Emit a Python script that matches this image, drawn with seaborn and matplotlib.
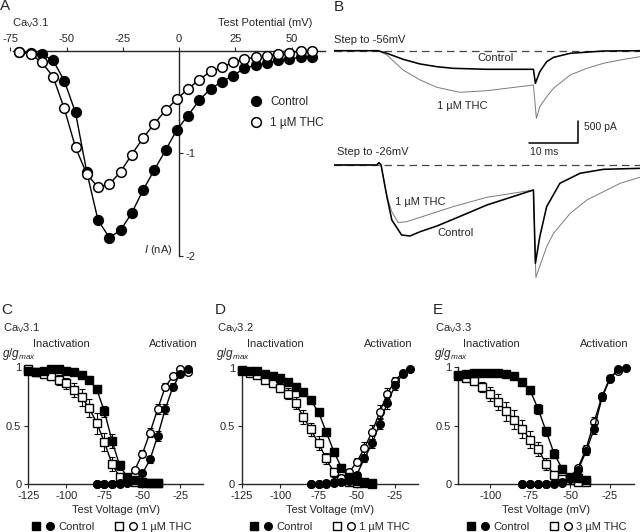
import matplotlib
matplotlib.use("Agg")
import matplotlib.pyplot as plt
import seaborn as sns
from matplotlib.lines import Line2D
from matplotlib.legend_handler import HandlerTuple

# ===============================
# Data
# ===============================
# Panel A: I-V of CaV3.1 (nA)
iv_voltage = [-71, -66, -61, -56, -51, -46, -41, -36, -31, -26, -21, -16, -11, -6,
              -1, 4, 9, 14, 19, 24, 29, 34, 39, 44, 49, 54, 59]
iv_control = [-0.01, -0.02, -0.03, -0.09, -0.29, -0.60, -1.18, -1.65, -1.82, -1.75,
              -1.58, -1.36, -1.16, -0.97, -0.77, -0.63, -0.48, -0.37, -0.30, -0.24,
              -0.17, -0.14, -0.12, -0.09, -0.08, -0.06, -0.06]
iv_thc = [-0.01, -0.03, -0.11, -0.25, -0.56, -0.94, -1.20, -1.33, -1.30, -1.18, -1.01,
          -0.85, -0.71, -0.58, -0.47, -0.37, -0.28, -0.20, -0.16, -0.11, -0.08, -0.06,
          -0.05, -0.03, -0.02, 0.0, 0.0]

# Panel B: current traces (ms, pA)
top_ctrl_t = [0, 9.0, 10.8, 14.1, 17.6, 21.0, 24.3, 31.2, 40.7, 41.1, 42.0, 43.4, 44.8, 48.2, 55.0, 62.4]
top_ctrl_i = [0, 0, -60, -198, -306, -368, -405, -428, -428, -750, -483, -253, -153, -60, -7, 0]
top_thc_t = [0, 9.0, 10.8, 14.1, 17.6, 21.0, 25.7, 31.2, 40.7, 41.3, 42.0, 43.4, 44.8, 48.2, 51.6, 55.0, 58.4, 62.4]
top_thc_i = [0, 0, -99, -444, -674, -842, -957, -920, -789, -1555, -1288, -1058, -865, -559, -405, -290, -214, -138]
bot_ctrl_t = [0, 8.7, 9.2, 9.6, 10.8, 11.8, 13.8, 15.5, 17.6, 21.0, 24.3, 31.2, 40.7, 41.1, 42.0, 43.4, 46.1, 50.2, 55.0, 62.4]
bot_ctrl_i = [0, 0, 53, 0, -729, -1265, -1610, -1633, -1533, -1403, -1249, -920, -575, -2261, -1648, -958, -421, -191, -99, -77]
bot_thc_t = [0, 8.7, 9.2, 9.6, 10.8, 11.8, 13.1, 14.8, 17.6, 24.3, 31.2, 40.7, 41.2, 43.4, 44.8, 48.2, 51.6, 58.4, 62.4]
bot_thc_i = [0, 0, 53, 0, -729, -1073, -1326, -1303, -1203, -958, -743, -575, -2584, -1879, -1572, -1112, -805, -421, -284]

# Panels C-E: normalised conductance
inact_v = [-125, -120, -115, -110, -105, -100, -95, -90, -85, -80, -75, -70, -65, -60, -55, -50, -45, -40]
act_v = [-80, -75, -70, -65, -60, -55, -50, -45, -40, -35, -30, -25, -20, -15]

c_inact_ctrl = [0.97, 0.96, 0.97, 0.98, 0.98, 0.97, 0.96, 0.93, 0.89, 0.81, 0.62, 0.37, 0.16, 0.06, 0.03, 0.02, 0.01, 0.01]
c_inact_ctrl_err = [0.02, 0.01, 0.01, 0.01, 0.01, 0.01, 0.01, 0.02, 0.03, 0.03, 0.05, 0.06, 0.04, 0.02, 0.01, 0.01, 0.0, 0.0]
c_inact_thc = [0.98, 0.96, 0.94, 0.92, 0.89, 0.86, 0.80, 0.74, 0.65, 0.52, 0.36, 0.17, 0.06, 0.03, 0.02, 0.01, 0.01, 0.01]
c_inact_thc_err = [0.01, 0.02, 0.02, 0.03, 0.04, 0.05, 0.06, 0.07, 0.08, 0.09, 0.08, 0.06, 0.03, 0.02, 0.01, 0.0, 0.0, 0.0]
c_act_ctrl = [0.0, 0.0, 0.0, 0.0, 0.01, 0.03, 0.09, 0.21, 0.41, 0.64, 0.83, 0.94, 0.98]
c_act_ctrl_err = [0.0, 0.0, 0.0, 0.0, 0.0, 0.01, 0.02, 0.03, 0.04, 0.04, 0.03, 0.02, 0.01]
c_act_thc = [0.0, 0.0, 0.0, 0.01, 0.04, 0.12, 0.26, 0.44, 0.64, 0.83, 0.92, 0.98, 0.96]
c_act_thc_err = [0.0, 0.0, 0.0, 0.0, 0.01, 0.02, 0.03, 0.04, 0.04, 0.03, 0.02, 0.01, 0.01]

d_inact_ctrl = [0.98, 0.97, 0.97, 0.95, 0.93, 0.91, 0.88, 0.84, 0.79, 0.72, 0.62, 0.45, 0.28, 0.14, 0.06, 0.03, 0.02, 0.01]
d_inact_ctrl_err = [0.01, 0.01, 0.01, 0.01, 0.02, 0.02, 0.02, 0.03, 0.03, 0.03, 0.03, 0.03, 0.03, 0.03, 0.02, 0.01, 0.0, 0.0]
d_inact_thc = [0.97, 0.96, 0.94, 0.90, 0.87, 0.83, 0.78, 0.70, 0.58, 0.47, 0.35, 0.22, 0.10, 0.04, 0.02, 0.01, 0.01, 0.0]
d_inact_thc_err = [0.01, 0.01, 0.02, 0.02, 0.03, 0.04, 0.05, 0.05, 0.06, 0.06, 0.06, 0.05, 0.04, 0.02, 0.01, 0.0, 0.0, 0.0]
d_act_ctrl = [0.0, 0.0, 0.0, 0.01, 0.02, 0.03, 0.08, 0.22, 0.35, 0.52, 0.70, 0.85, 0.95, 0.99]
d_act_ctrl_err = [0.0, 0.0, 0.0, 0.0, 0.01, 0.01, 0.02, 0.03, 0.04, 0.05, 0.05, 0.04, 0.02, 0.01]
d_act_thc = [0.0, 0.0, 0.01, 0.02, 0.05, 0.10, 0.19, 0.31, 0.45, 0.62, 0.78, 0.89, 0.96]
d_act_thc_err = [0.0, 0.0, 0.0, 0.01, 0.01, 0.02, 0.03, 0.05, 0.06, 0.06, 0.05, 0.03, 0.02]

e_inact_ctrl = [0.92, 0.94, 0.95, 0.95, 0.95, 0.95, 0.94, 0.92, 0.87, 0.80, 0.64, 0.45, 0.26, 0.13, 0.06, 0.05, 0.03]
e_inact_ctrl_err = [0.02, 0.01, 0.01, 0.01, 0.01, 0.01, 0.02, 0.02, 0.03, 0.03, 0.04, 0.04, 0.04, 0.03, 0.02, 0.01, 0.01]
e_inact_thc = [0.93, 0.91, 0.88, 0.83, 0.77, 0.70, 0.62, 0.55, 0.47, 0.38, 0.30, 0.17, 0.08, 0.04, 0.03, 0.02, 0.02]
e_inact_thc_err = [0.01, 0.02, 0.03, 0.04, 0.06, 0.07, 0.08, 0.08, 0.08, 0.07, 0.06, 0.05, 0.03, 0.02, 0.01, 0.0, 0.0]
e_act_ctrl = [0.0, 0.0, 0.0, 0.0, 0.0, 0.01, 0.04, 0.12, 0.28, 0.47, 0.74, 0.90, 0.98, 0.99]
e_act_ctrl_err = [0.0, 0.0, 0.0, 0.0, 0.0, 0.0, 0.01, 0.02, 0.03, 0.04, 0.03, 0.02, 0.01, 0.0]
e_act_thc = [0.0, 0.0, 0.0, 0.0, 0.01, 0.02, 0.06, 0.14, 0.30, 0.53, 0.75, 0.91, 0.97]
e_act_thc_err = [0.0, 0.0, 0.0, 0.0, 0.0, 0.01, 0.01, 0.02, 0.03, 0.04, 0.03, 0.02, 0.01]

# ===============================
# Style
# ===============================
sns.set_style("ticks")
plt.rcParams["font.family"] = ["Liberation Sans", "DejaVu Sans"]
plt.rcParams["mathtext.fontset"] = "custom"
plt.rcParams["mathtext.rm"] = "Liberation Sans"
plt.rcParams["mathtext.it"] = "Liberation Sans:italic"
plt.rcParams["axes.unicode_minus"] = False
plt.rcParams["axes.linewidth"] = 1.0

W, H = 640, 532
fig = plt.figure(figsize=(6.4, 5.32), dpi=100)


def px_rect(l, t, r, b):
    return [l / W, 1 - b / H, (r - l) / W, (b - t) / H]


def ftext(x, y, s, **kw):
    kw.setdefault("va", "center")
    kw.setdefault("fontsize", 8)
    fig.text(x / W, 1 - y / H, s, **kw)


# ===============================
# Panel A
# ===============================
ax_a = fig.add_axes(px_rect(5.75, 40.75, 325.25, 261.1))
sns.lineplot(x=iv_voltage, y=iv_control, ax=ax_a, color="black", lw=1.0, marker="o",
             markersize=7, markerfacecolor="black", markeredgecolor="black",
             markeredgewidth=1.1, clip_on=False, zorder=3)
sns.lineplot(x=iv_voltage, y=iv_thc, ax=ax_a, color="black", lw=1.0, marker="o",
             markersize=7, markerfacecolor="white", markeredgecolor="black",
             markeredgewidth=1.1, clip_on=False, zorder=4)
ax_a.set_xlim(-77, 65)
ax_a.set_ylim(-2.05, 0.1)
ax_a.spines["bottom"].set_visible(False)
ax_a.spines["left"].set_visible(False)
ax_a.spines["top"].set_position(("data", 0))
ax_a.spines["right"].set_position(("data", 0))
ax_a.spines["top"].set_bounds(-74, 65)
ax_a.spines["right"].set_bounds(-2, 0)
ax_a.xaxis.set_ticks_position("top")
ax_a.yaxis.set_ticks_position("right")
ax_a.set_xticks([-75, -50, -25, 0, 25, 50])
ax_a.set_yticks([-1, -2])
ax_a.set_yticklabels(["-1", "-2"])
ax_a.tick_params(length=3, width=0.8, labelsize=8, pad=2)
ax_a.set_xlabel("")
ax_a.set_ylabel("")

ftext(0, 6, "A", fontsize=11, ha="left")
ftext(12, 23, r"Ca$_\mathregular{V}$3.1", ha="left")
ftext(312, 23, "Test Potential (mV)", ha="right")
ftext(173, 250, r"$I$ (nA)", ha="right")

leg_a = [Line2D([], [], ls="none", marker="o", markersize=7, mfc="black", mec="black", mew=1.1),
         Line2D([], [], ls="none", marker="o", markersize=7, mfc="white", mec="black", mew=1.1)]
fig.legend(leg_a, ["Control", "1 µM THC"], loc="upper left",
           bbox_to_anchor=(244 / W, 1 - 90 / H), frameon=False, fontsize=8.5,
           handlelength=1.0, handletextpad=0.7, labelspacing=0.75, borderpad=0)

# ===============================
# Panel B
# ===============================
px_per_ms, pa_per_px = 4.9, 23.0
ax_b = fig.add_axes(px_rect(334, 28, 640, 285))
ax_b.set_xlim(0, (640 - 334) / px_per_ms)
ax_b.set_ylim(-(285 - 50.7) * pa_per_px, (50.7 - 28) * pa_per_px)
ax_b.axis("off")
bot_offset = -(165 - 50.7) * pa_per_px

for base in [0, bot_offset]:
    ax_b.plot([0, 62.4], [base, base], color="#444444", lw=0.9, dashes=(6, 4), zorder=1)

sns.lineplot(x=top_thc_t, y=top_thc_i, ax=ax_b, color="#7a7a7a", lw=0.7, sort=False, zorder=2)
sns.lineplot(x=top_ctrl_t, y=top_ctrl_i, ax=ax_b, color="black", lw=1.15, sort=False, zorder=3)
sns.lineplot(x=bot_thc_t, y=[v + bot_offset for v in bot_thc_i], ax=ax_b, color="#7a7a7a",
             lw=0.7, sort=False, zorder=2)
sns.lineplot(x=bot_ctrl_t, y=[v + bot_offset for v in bot_ctrl_i], ax=ax_b, color="black",
             lw=1.15, sort=False, zorder=3)

# scale bar: 10 ms x 500 pA
sb_x0, sb_y0 = (529 - 334) / px_per_ms, -(143 - 50.7) * pa_per_px
ax_b.plot([sb_x0, sb_x0 + 10, sb_x0 + 10], [sb_y0, sb_y0, sb_y0 + 500], color="black", lw=1.1)

ftext(334, 7, "B", fontsize=11, ha="left")
ftext(334, 40, "Step to -56mV", ha="left")
ftext(495, 58, "Control", ha="center")
ftext(462, 106, "1 µM THC", ha="center")
ftext(584, 127, "500 pA", ha="left", fontsize=7.5)
ftext(530, 152, "10 ms", ha="left", fontsize=7.5)
ftext(337, 152, "Step to -26mV", ha="left")
ftext(420, 202, "1 µM THC", ha="center")
ftext(456, 233, "Control", ha="center")

# ===============================
# Panels C-E
# ===============================
panels = [
    dict(rect=(28.3, 367, 203.3, 484), xlim=(-125, -10), xticks=[-125, -100, -75, -50, -25],
         iv=inact_v, ic=c_inact_ctrl, ice=c_inact_ctrl_err, it=c_inact_thc, ite=c_inact_thc_err,
         av=act_v, ac=c_act_ctrl, ace=c_act_ctrl_err, at=c_act_thc, ate=c_act_thc_err,
         letter="C", name="3.1", dose="1 µM THC", lx=0, legx=112),
    dict(rect=(242, 368, 418, 484), xlim=(-125, -10), xticks=[-125, -100, -75, -50, -25],
         iv=inact_v, ic=d_inact_ctrl, ice=d_inact_ctrl_err, it=d_inact_thc, ite=d_inact_thc_err,
         av=act_v, ac=d_act_ctrl, ace=d_act_ctrl_err, at=d_act_thc, ate=d_act_thc_err,
         letter="D", name="3.2", dose="1 µM THC", lx=214, legx=330),
    dict(rect=(458.3, 367, 634, 484), xlim=(-120, -10), xticks=[-100, -75, -50, -25],
         iv=inact_v[1:], ic=e_inact_ctrl, ice=e_inact_ctrl_err, it=e_inact_thc, ite=e_inact_thc_err,
         av=act_v, ac=e_act_ctrl, ace=e_act_ctrl_err, at=e_act_thc, ate=e_act_thc_err,
         letter="E", name="3.3", dose="3 µM THC", lx=432, legx=547),
]

mk = dict(markersize=5.5, markeredgecolor="black", markeredgewidth=1.0)
for p in panels:
    ax = fig.add_axes(px_rect(*p["rect"]))
    series = [
        (p["iv"], p["it"], p["ite"], "s", "white"),
        (p["av"][:len(p["at"])], p["at"], p["ate"], "o", "white"),
        (p["iv"], p["ic"], p["ice"], "s", "black"),
        (p["av"][:len(p["ac"])], p["ac"], p["ace"], "o", "black"),
    ]
    for z, (xv, yv, ev, m, fc) in enumerate(series):
        ax.errorbar(xv, yv, yerr=ev, fmt="none", ecolor="black", elinewidth=0.8,
                    capsize=2, capthick=0.8, zorder=2 + z, clip_on=False)
        sns.lineplot(x=xv, y=yv, ax=ax, color="black", lw=1.0, marker=m,
                     markerfacecolor=fc, clip_on=False, zorder=3 + z, **mk)
    ax.set_xlim(*p["xlim"])
    ax.set_ylim(0, 1)
    sns.despine(ax=ax)
    ax.spines["left"].set_bounds(0, 1)
    ax.set_xticks(p["xticks"])
    ax.set_yticks([0, 0.5, 1])
    ax.set_yticklabels(["0", "0.5", "1"])
    ax.tick_params(length=3, width=0.8, labelsize=8, pad=2)
    ax.set_xlabel("")
    ax.set_ylabel("")

    l, t, r, b = p["rect"]
    cx = (l + r) / 2
    lx = p["lx"]
    ftext(lx + 1, 310, p["letter"], fontsize=11, ha="left")
    ftext(lx + 3, 328, r"Ca$_\mathregular{V}$" + p["name"], ha="left")
    ftext(l + 33, 344, "Inactivation", ha="center")
    ftext(r - 30, 344, "Activation", ha="center")
    ftext(lx + 2, 354, r"$g/g_{max}$", ha="left", fontsize=8.5)
    ftext(cx, 510, "Test Voltage (mV)", ha="center")

    h_ctrl = (Line2D([], [], ls="none", marker="s", mfc="black", **mk),
              Line2D([], [], ls="none", marker="o", mfc="black", **mk))
    h_thc = (Line2D([], [], ls="none", marker="s", mfc="white", **mk),
             Line2D([], [], ls="none", marker="o", mfc="white", **mk))
    fig.legend([h_ctrl, h_thc], ["Control", p["dose"]], ncol=2, loc="center",
               bbox_to_anchor=(p["legx"] / W, 1 - 527 / H), frameon=False, fontsize=8,
               handler_map={tuple: HandlerTuple(ndivide=None, pad=0.5)},
               handlelength=2.0, handletextpad=0.4, columnspacing=1.8, borderpad=0)

fig.savefig("out.png", dpi=100)
